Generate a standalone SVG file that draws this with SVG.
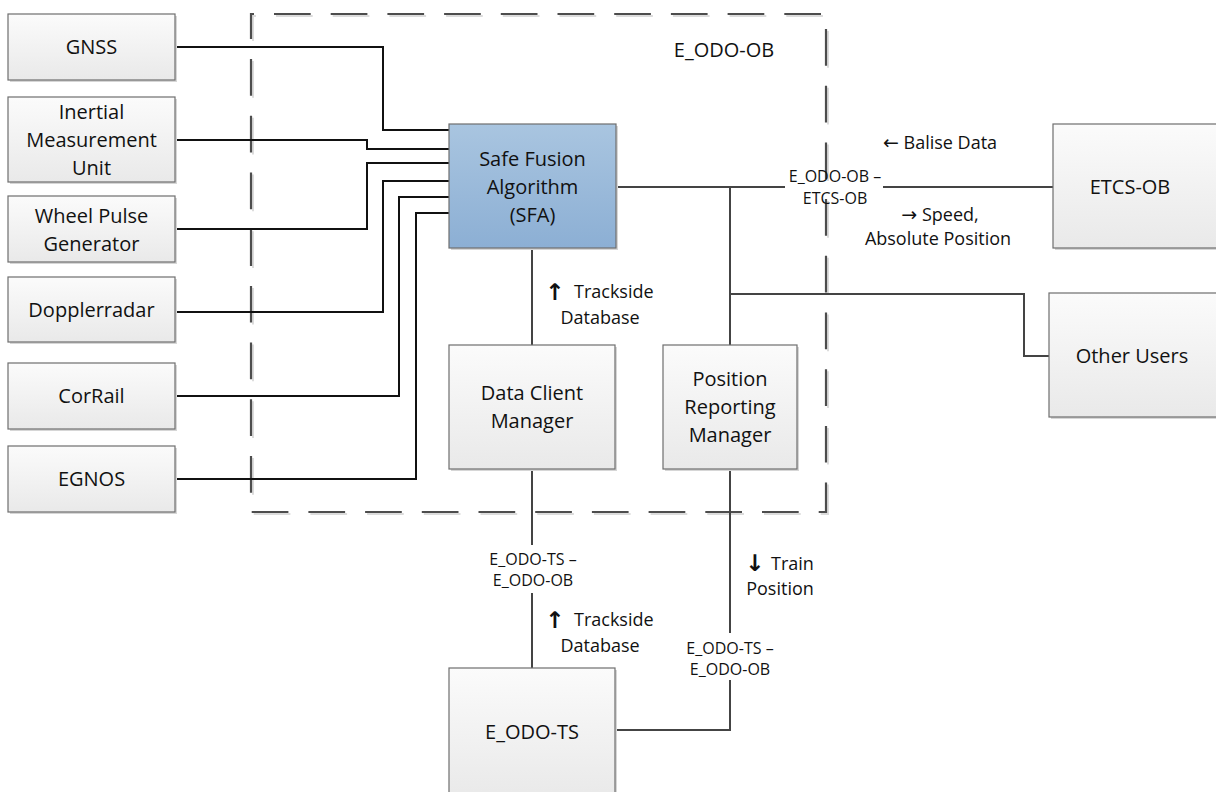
<svg xmlns="http://www.w3.org/2000/svg" width="1216" height="792" viewBox="0 0 1216 792">
<style>
.box{fill:url(#gbox);stroke:#6e6e6e;stroke-width:1.2}
.sh{fill:#d6d6d6}
.sfa{fill:url(#gsfa);stroke:#6e6e6e;stroke-width:1.2}
.nt{font-family:"Open Sans","Liberation Sans",sans-serif;font-size:20px;fill:#111;text-anchor:middle}
.lb{font-family:"Open Sans","Liberation Sans",sans-serif;font-size:18px;fill:#111}
.it{font-family:"Open Sans","Liberation Sans",sans-serif;font-size:16px;fill:#111;text-anchor:middle}
.ar{font-family:"DejaVu Sans",sans-serif;font-size:19px;fill:#111}
.arb{font-family:"DejaVu Sans",sans-serif;font-size:23px;font-weight:bold;fill:#111;text-anchor:middle}
.cb{fill:none;stroke:#111;stroke-width:2}
.cg{fill:none;stroke:#444;stroke-width:2}
</style>
<defs>
<linearGradient id="gbox" x1="0" y1="0" x2="0" y2="1"><stop offset="0" stop-color="#fbfbfb"/><stop offset="1" stop-color="#e9e9e9"/></linearGradient>
<linearGradient id="gsfa" x1="0" y1="0" x2="0" y2="1"><stop offset="0" stop-color="#a9c5e0"/><stop offset="1" stop-color="#8cafd4"/></linearGradient>
</defs>
<rect width="1216" height="792" fill="#fff"/>

<g id="container">
<rect x="253" y="16" width="575" height="498" fill="none" stroke="#dcdcdc" stroke-width="2" stroke-dasharray="36.7 20" stroke-dashoffset="33.7"/>
<rect x="251" y="14" width="575" height="498" fill="none" stroke="#4d4d4d" stroke-width="2.2" stroke-dasharray="36.7 20" stroke-dashoffset="33.7"/>
<text class="nt" x="724" y="57">E_ODO-OB</text>
</g>

<g id="connectors">
<polyline class="cb" points="175,47 383,47 383,130 449,130"/>
<polyline class="cb" points="175,140 367,140 367,149 449,149"/>
<polyline class="cb" points="175,229 367,229 367,163 449,163"/>
<polyline class="cb" points="175,312 383,312 383,181 449,181"/>
<polyline class="cb" points="175,396 399,396 399,197 449,197"/>
<polyline class="cb" points="175,479 416,479 416,213 449,213"/>
<polyline class="cg" points="616,187 785,187"/>
<polyline class="cg" points="883,187 1053,187"/>
<polyline class="cg" points="730,187 730,345"/>
<polyline class="cg" points="730,294 1024,294 1024,356 1049,356"/>
<polyline class="cg" points="532,248 532,345"/>
<polyline class="cg" points="532,469 532,545"/>
<polyline class="cg" points="532,593 532,668"/>
<polyline class="cg" points="730,469 730,633"/>
<polyline class="cg" points="730,680 730,730 615,730"/>
<text class="it" x="835" y="181.5">E_ODO-OB –</text>
<text class="it" x="835" y="203.5">ETCS-OB</text>
<text class="ar" x="940" y="148.5" text-anchor="middle">←<tspan class="lb"> Balise Data</tspan></text>
<text class="ar" x="940" y="221" text-anchor="middle">→<tspan class="lb">  Speed,</tspan></text>
<text class="lb" x="938" y="244.5" text-anchor="middle">Absolute Position</text>
<text class="arb" x="555" y="300">↑</text>
<text class="lb" x="574" y="297.5">Trackside</text>
<text class="lb" x="600" y="323.5" text-anchor="middle">Database</text>
<text class="it" x="533" y="564.5">E_ODO-TS –</text>
<text class="it" x="533" y="585.5">E_ODO-OB</text>
<text class="arb" x="555" y="628">↑</text>
<text class="lb" x="574" y="625.5">Trackside</text>
<text class="lb" x="600" y="651.5" text-anchor="middle">Database</text>
<text class="arb" x="755" y="571">↓</text>
<text class="lb" x="771" y="569.5">Train</text>
<text class="lb" x="780" y="594.5" text-anchor="middle">Position</text>
<text class="it" x="730" y="653.5">E_ODO-TS –</text>
<text class="it" x="730" y="674.5">E_ODO-OB</text>
</g>

<g id="gnss"><rect class="sh" x="10" y="16" width="167" height="66"/><rect class="box" x="8" y="14" width="167" height="66"/><text class="nt" x="91.5" y="54">GNSS</text></g>
<g id="imu"><rect class="sh" x="10" y="99" width="167" height="85"/><rect class="box" x="8" y="97" width="167" height="85"/><text class="nt" x="91.5" y="119">Inertial</text><text class="nt" x="91.5" y="147">Measurement</text><text class="nt" x="91.5" y="175">Unit</text></g>
<g id="wpg"><rect class="sh" x="10" y="198" width="167" height="66"/><rect class="box" x="8" y="196" width="167" height="66"/><text class="nt" x="91.5" y="223">Wheel Pulse</text><text class="nt" x="91.5" y="251">Generator</text></g>
<g id="doppler"><rect class="sh" x="10" y="279" width="167" height="65"/><rect class="box" x="8" y="277" width="167" height="65"/><text class="nt" x="91.5" y="317">Dopplerradar</text></g>
<g id="corrail"><rect class="sh" x="10" y="365" width="167" height="66"/><rect class="box" x="8" y="363" width="167" height="66"/><text class="nt" x="91.5" y="403">CorRail</text></g>
<g id="egnos"><rect class="sh" x="10" y="448" width="167" height="66"/><rect class="box" x="8" y="446" width="167" height="66"/><text class="nt" x="91.5" y="486">EGNOS</text></g>

<g id="sfa"><rect class="sh" x="451" y="126" width="167" height="124"/><rect class="sfa" x="449" y="124" width="167" height="124"/><text class="nt" x="532.5" y="166">Safe Fusion</text><text class="nt" x="532.5" y="194">Algorithm</text><text class="nt" x="532.5" y="222">(SFA)</text></g>
<g id="dcm"><rect class="sh" x="451" y="347" width="166" height="124"/><rect class="box" x="449" y="345" width="166" height="124"/><text class="nt" x="532" y="400">Data Client</text><text class="nt" x="532" y="428">Manager</text></g>
<g id="prm"><rect class="sh" x="665" y="347" width="134" height="124"/><rect class="box" x="663" y="345" width="134" height="124"/><text class="nt" x="730" y="386">Position</text><text class="nt" x="730" y="414">Reporting</text><text class="nt" x="730" y="442">Manager</text></g>
<g id="etcs"><rect class="sh" x="1055" y="126" width="170" height="124"/><rect class="box" x="1053" y="124" width="170" height="124"/><text class="nt" x="1130" y="194">ETCS-OB</text></g>
<g id="other"><rect class="sh" x="1051" y="295" width="170" height="124"/><rect class="box" x="1049" y="293" width="170" height="124"/><text class="nt" x="1132" y="363">Other Users</text></g>
<g id="eodots"><rect class="sh" x="451" y="670" width="166" height="130"/><rect class="box" x="449" y="668" width="166" height="130"/><text class="nt" x="532" y="739">E_ODO-TS</text></g>
</svg>
